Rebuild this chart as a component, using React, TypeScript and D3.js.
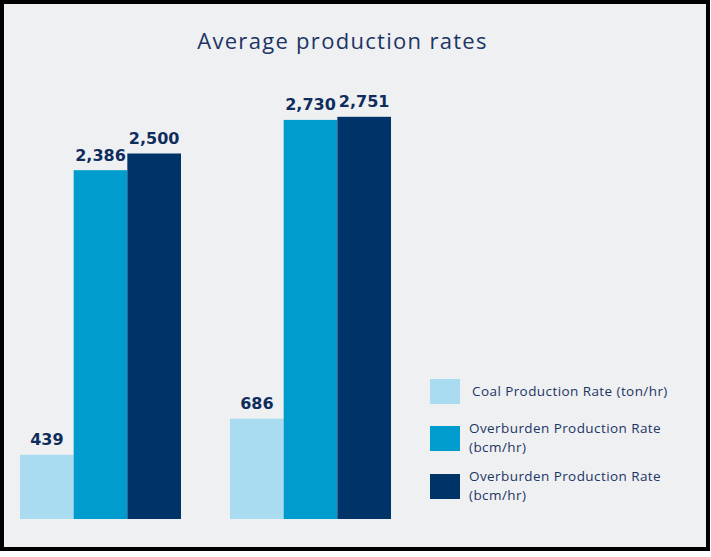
import React from "react";
import * as d3 from "d3";

const groups = ["Site A", "Site B"];
const seriesNames = [
  "Coal Production Rate (ton/hr)",
  "Overburden Production Rate (bcm/hr)",
  "Overburden Production Rate (bcm/hr)",
];
const legendLines = [
  ["Coal Production Rate (ton/hr)"],
  ["Overburden Production Rate", "(bcm/hr)"],
  ["Overburden Production Rate", "(bcm/hr)"],
];
const coalRate = [439, 686];
const overburdenRateA = [2386, 2730];
const overburdenRateB = [2500, 2751];
const colors = ["#a9dcf0", "#009ccd", "#003468"];

const W = 711;
const H = 557;

export default function App() {
  const values = [coalRate, overburdenRateA, overburdenRateB];
  const x0b = d3.scalePoint().domain(groups).range([20, 230]);
  const x1 = d3.scaleBand().domain(["0", "1", "2"]).range([0, 161]);
  const y = d3.scaleLinear().domain([0, 3000]).range([519, 80.4]);
  const fmt = d3.format(",");
  return (
    <svg width={W} height={H} style={{ position: "absolute", left: 0, top: 0 }}>
      <rect x={2} y={2} width={706} height={547} fill="#eff0f2" stroke="#000" strokeWidth={4} />
      <text x={342.5} y={48.5} textAnchor="middle" fontFamily="Open Sans" fontSize={22} letterSpacing={1.3} fill="#1c3565">
        Average production rates
      </text>
      {groups.map((g) => (
        <g key={g} transform={`translate(${x0b(g)},0)`}>
          {values.map((vals, si) => {
            const v = vals[groups.indexOf(g)];
            const bx = x1(String(si))!;
            const bw = x1.bandwidth();
            return (
              <g key={si}>
                <rect x={bx} y={y(v)} width={bw} height={y(0) - y(v)} fill={colors[si]} />
                <text
                  x={bx + bw / 2}
                  y={y(v) - 9.5}
                  textAnchor="middle"
                  fontFamily="DejaVu Sans"
                  fontWeight="bold"
                  fontSize={16}
                  fill="#0f2d5c"
                >
                  {fmt(v)}
                </text>
              </g>
            );
          })}
        </g>
      ))}
      {seriesNames.map((s, i) => {
        const sy = [379, 426, 474][i];
        return (
          <g key={i}>
            <rect x={430} y={sy} width={30} height={25} fill={colors[i]} />
            {legendLines[i].map((line, li) => (
              <text
                key={li}
                x={i === 0 ? 472 : 469}
                y={i === 0 ? 396 : sy + 7 + li * 19}
                fontFamily="Open Sans"
                fontSize={13.5}
                letterSpacing={0.42}
                fill="#1c3565"
              >
                {line}
              </text>
            ))}
          </g>
        );
      })}
    </svg>
  );
}
